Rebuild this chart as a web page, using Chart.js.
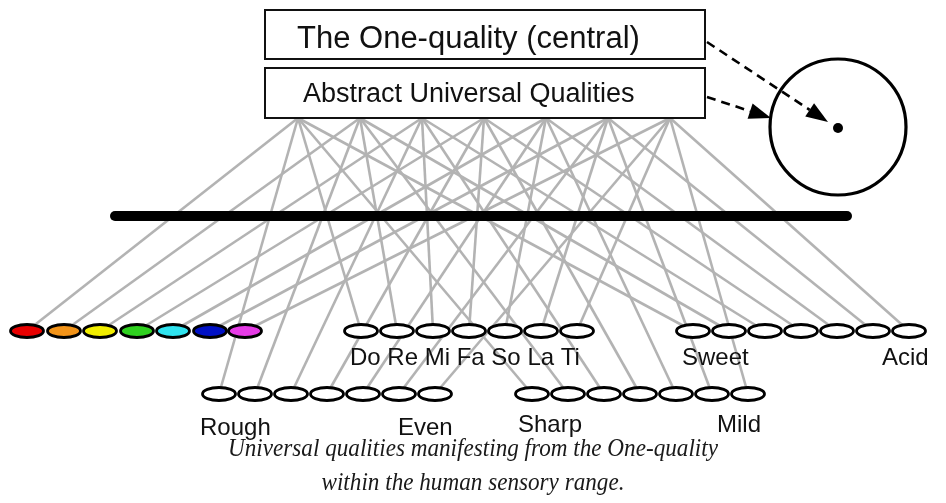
<!DOCTYPE html>
<html>
<head>
<meta charset="utf-8">
<script src="https://cdn.jsdelivr.net/npm/chart.js@4/dist/chart.umd.min.js"></script>
<style>
  html, body { margin: 0; padding: 0; background: #fff; }
  #wrap { width: 946px; height: 503px; }
</style>
</head>
<body>
<div id="wrap"><canvas id="diagram" width="946" height="503"></canvas></div>
<script>
// abstract qualities hang from the bottom of the lower box
const nodeX = [298, 360, 422, 484, 546, 608, 670];
const nodeY = 118;

// sensory ranges: 7 steps each
const colourX = [27, 64, 100, 137, 173, 210, 245];
const noteX   = [361, 397, 433, 469, 505, 541, 577];
const tasteX  = [693, 729, 765, 801, 837, 873, 909];
const roughX  = [219, 255, 291, 327, 363, 399, 435];
const sharpX  = [532, 568, 604, 640, 676, 712, 748];
const upperRowY = 331;
const lowerRowY = 394;

const colourFill = ['#e80000', '#f39419', '#f2ee00', '#2fd11f', '#2fe3ef', '#0010c4', '#e63be6'];

const topLabel = 'The One-quality (central)';
const boxLabel = 'Abstract Universal Qualities';
const noteLabel = 'Do Re Mi Fa So La Ti';
const rangeLabels = [
  { text: 'Sweet', x: 682, y: 365 },
  { text: 'Acid',  x: 882, y: 365 },
  { text: 'Rough', x: 200, y: 435 },
  { text: 'Even',  x: 398, y: 435 },
  { text: 'Sharp', x: 518, y: 432 },
  { text: 'Mild',  x: 717, y: 432 },
];
const caption = ['Universal qualities manifesting from the One-quality',
                 'within the human sensory range.'];

const barFrom = 115, barTo = 847, barY = 216;

function ovalImage(fill) {
  const c = document.createElement('canvas');
  c.width = 38; c.height = 18;
  const g = c.getContext('2d');
  g.beginPath();
  g.ellipse(19, 9, 16.5, 6.5, 0, 0, Math.PI * 2);
  g.fillStyle = fill;
  g.fill();
  g.lineWidth = 2.8;
  g.strokeStyle = '#000';
  g.stroke();
  return c;
}
const whiteOval = ovalImage('#fff');

const groups = [
  { xs: colourX, y: upperRowY },
  { xs: noteX,   y: upperRowY },
  { xs: tasteX,  y: upperRowY },
  { xs: roughX,  y: lowerRowY },
  { xs: sharpX,  y: lowerRowY },
];

const links = [];
groups.forEach(g => {
  g.xs.forEach((x, i) => {
    links.push({
      data: [{ x: nodeX[i], y: nodeY }, { x: x, y: g.y }],
      showLine: true, borderColor: '#b3b3b3', borderWidth: 2.6,
      pointRadius: 0, order: 3,
    });
  });
});

const ovalPoints = [], ovalStyles = [];
groups.forEach((g, gi) => {
  g.xs.forEach((x, i) => {
    ovalPoints.push({ x: x, y: g.y });
    ovalStyles.push(gi === 0 ? ovalImage(colourFill[i]) : whiteOval);
  });
});

const decor = {
  id: 'decor',
  beforeDraw(chart) {
    const c = chart.ctx;
    c.save();
    c.fillStyle = '#fff';
    c.fillRect(0, 0, chart.width, chart.height);
    c.restore();
  },
  afterDraw(chart) {
    const c = chart.ctx, sx = chart.scales.x, sy = chart.scales.y;
    const X = v => sx.getPixelForValue(v), Y = v => sy.getPixelForValue(v);
    c.save();

    // the two boxes
    c.strokeStyle = '#111';
    c.lineWidth = 2;
    c.fillStyle = '#fff';
    [[10, 59], [68, 118]].forEach(([t, b]) => {
      c.fillRect(X(265), Y(t), X(705) - X(265), Y(b) - Y(t));
      c.strokeRect(X(265), Y(t), X(705) - X(265), Y(b) - Y(t));
    });
    c.fillStyle = '#111';
    c.textBaseline = 'alphabetic';
    c.font = '31px "Liberation Sans", Arial, sans-serif';
    c.fillText(topLabel, X(297), Y(48));
    c.font = '27px "Liberation Sans", Arial, sans-serif';
    c.fillText(boxLabel, X(303), Y(102));

    // circle with the central point
    c.lineWidth = 3.2;
    c.strokeStyle = '#000';
    c.beginPath();
    c.arc(X(838), Y(127), 68, 0, Math.PI * 2);
    c.stroke();
    c.fillStyle = '#000';
    c.beginPath();
    c.arc(X(838), Y(128), 5, 0, Math.PI * 2);
    c.fill();

    // dashed arrows
    function arrow(x0, y0, x1, y1) {
      const a = Math.atan2(Y(y1) - Y(y0), X(x1) - X(x0));
      const len = 22, half = 8;
      const bx = X(x1) - Math.cos(a) * len, by = Y(y1) - Math.sin(a) * len;
      c.setLineDash([9, 6]);
      c.lineWidth = 2.6;
      c.beginPath();
      c.moveTo(X(x0), Y(y0));
      c.lineTo(bx, by);
      c.stroke();
      c.setLineDash([]);
      c.beginPath();
      c.moveTo(X(x1), Y(y1));
      c.lineTo(bx - Math.sin(a) * half, by + Math.cos(a) * half);
      c.lineTo(bx + Math.sin(a) * half, by - Math.cos(a) * half);
      c.closePath();
      c.fill();
    }
    arrow(707, 42, 828, 122);
    arrow(707, 97, 771, 118);

    // range labels
    c.fillStyle = '#111';
    c.font = '24px "Liberation Sans", Arial, sans-serif';
    c.fillText(noteLabel, X(350), Y(365));
    rangeLabels.forEach(l => c.fillText(l.text, X(l.x), Y(l.y)));

    // caption: italic serif, fitted to the width it has in the figure
    c.textAlign = 'center';
    c.font = 'italic 25.5px "Liberation Serif", "DejaVu Serif", serif';
    const k = 490 / c.measureText(caption[0]).width;
    c.fillStyle = '#1a1a1a';
    c.translate(X(473), 0);
    c.scale(k, 1);
    c.fillText(caption[0], 0, Y(456));
    c.fillText(caption[1], 0, Y(490));
    c.restore();
  }
};

new Chart(document.getElementById('diagram'), {
  type: 'scatter',
  data: {
    datasets: [
      {
        data: ovalPoints, pointStyle: ovalStyles, pointRadius: 8,
        showLine: false, order: 1, clip: false,
      },
      {
        data: [{ x: barFrom, y: barY }, { x: barTo, y: barY }],
        showLine: true, borderColor: '#000', borderWidth: 10,
        borderCapStyle: 'round', pointRadius: 0, order: 2,
      },
      ...links,
    ]
  },
  options: {
    responsive: false,
    animation: false,
    events: [],
    layout: { padding: 0, autoPadding: false },
    plugins: { legend: { display: false }, tooltip: { enabled: false } },
    scales: {
      x: { type: 'linear', min: 0, max: 946, display: false },
      y: { type: 'linear', min: 0, max: 503, reverse: true, display: false },
    },
  },
  plugins: [decor],
});
</script>
</body>
</html>
